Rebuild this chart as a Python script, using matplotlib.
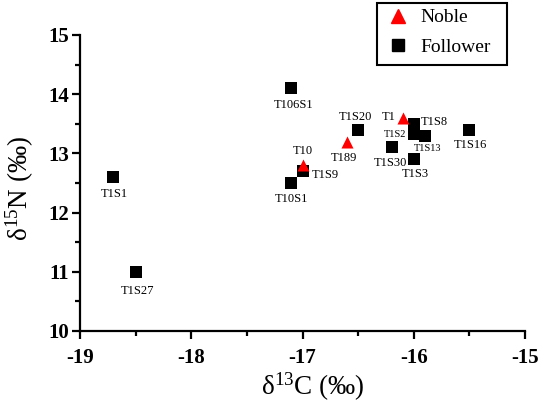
import matplotlib
matplotlib.use("Agg")
import matplotlib.pyplot as plt
from matplotlib.lines import Line2D
from matplotlib.patches import Rectangle

plt.rcParams['font.family'] = ['Liberation Serif', 'DejaVu Serif']
plt.rcParams['mathtext.fontset'] = 'custom'
plt.rcParams['mathtext.rm'] = 'Liberation Serif'
plt.rcParams['mathtext.it'] = 'Liberation Serif:italic'
plt.rcParams['mathtext.bf'] = 'Liberation Serif:bold'

# Data
noble_names = ["T10", "T189", "T1"]
noble_c = [-17.0, -16.6, -16.1]
noble_n = [12.8, 13.2, 13.6]

follower_names = ["T1S1", "T1S27", "T106S1", "T10S1", "T1S9", "T1S20",
                  "T1S8", "T1S2", "T1S13", "T1S30", "T1S3", "T1S16"]
follower_c = [-18.7, -18.5, -17.1, -17.1, -17.0, -16.5,
              -16.0, -16.0, -15.9, -16.2, -16.0, -15.5]
follower_n = [12.6, 11.0, 14.1, 12.5, 12.7, 13.4,
              13.5, 13.33, 13.3, 13.1, 12.9, 13.4]

series_names = ["Noble", "Follower"]
x_ticks = [-19, -18, -17, -16, -15]
y_ticks = [10, 11, 12, 13, 14, 15]

# label placement: (dx px, dy px, ha, va, fontsize)
PX = 0.72
lab_style = {
    "T10": (0, 14, "center", "center", 9),
    "T189": (-3, -16, "center", "center", 9),
    "T1": (-7, 1, "right", "center", 9),
    "T1S1": (1, -17, "center", "center", 9),
    "T1S27": (2, -19, "center", "center", 9),
    "T106S1": (2, -17, "center", "center", 9),
    "T10S1": (0, -16, "center", "center", 9),
    "T1S9": (9, -4, "left", "center", 9),
    "T1S20": (-3, 13, "center", "center", 9),
    "T1S8": (7, 2, "left", "center", 9),
    "T1S2": (-7, -1, "right", "center", 7.5),
    "T1S13": (3, -13, "center", "center", 7.5),
    "T1S30": (-1, -16, "center", "center", 9),
    "T1S3": (2, -15, "center", "center", 9),
    "T1S16": (1, -15, "center", "center", 9),
}

W, H = 550, 408
fig = plt.figure(figsize=(5.5, 4.08), dpi=100)
ax = fig.add_axes([80/W, 1-331/H, 445/W, 296/H])

ax.scatter(follower_c, follower_n, marker='s', s=70, color='black', zorder=3,
           linewidths=0)
ax.scatter(noble_c, noble_n, marker='^', s=75, color='red', zorder=4,
           linewidths=0)

for names, xs, ys in [(follower_names, follower_c, follower_n),
                      (noble_names, noble_c, noble_n)]:
    for nm, x, y in zip(names, xs, ys):
        dx, dy, ha, va, fs = lab_style[nm]
        ax.annotate(nm, (x, y), xytext=(dx*PX, dy*PX), textcoords='offset points',
                    ha=ha, va=va, fontsize=fs, zorder=5)

ax.set_xlim(-19, -15)
ax.set_ylim(10, 15)
ax.set_xticks(x_ticks)
ax.set_yticks(y_ticks)
ax.set_xticks([-18.5, -17.5, -16.5, -15.5], minor=True)
ax.set_yticks([10.5, 11.5, 12.5, 13.5, 14.5], minor=True)
ax.set_xticklabels([str(v) for v in x_ticks], fontweight='bold', fontsize=15)
ax.set_yticklabels([str(v) for v in y_ticks], fontweight='bold', fontsize=15)

for s in ['top', 'right']:
    ax.spines[s].set_visible(False)
for s in ['left', 'bottom']:
    ax.spines[s].set_linewidth(1.6)
ax.tick_params(which='major', length=6, width=1.6, direction='out')
ax.tick_params(axis='x', which='major', pad=6)
ax.tick_params(axis='y', which='major', pad=2)
ax.tick_params(which='minor', length=3.5, width=1.6, direction='out')

ax.set_xlabel(r'δ$^{\mathrm{13}}$C (‰)', fontsize=19.5)
ax.set_ylabel(r'δ$^{\mathrm{15}}$N (‰)', fontsize=19.5)
# place axis label centres (figure pixels -> axes coords)
ax.xaxis.set_label_coords((313-80)/445, (331-387)/296)
ax.xaxis.label.set_va('center')
ax.yaxis.set_label_coords((20-80)/445, (331-189)/296)
ax.yaxis.label.set_va('center')

# legend drawn as figure artists
fig.patches.append(Rectangle((377/W, 1-65/H), (507-377)/W, (65-3)/H,
                             transform=fig.transFigure, fill=False,
                             edgecolor='black', linewidth=1.5))
fig.add_artist(Line2D([398/W], [1-16/H], marker='^', color='red',
                      markersize=9.5, linestyle='none', transform=fig.transFigure))
fig.add_artist(Line2D([398/W], [1-45/H], marker='s', color='black',
                      markersize=9.2, linestyle='none', transform=fig.transFigure))
fig.text(420/W, 1-21.7/H, series_names[0], fontsize=14, va='baseline', ha='left')
fig.text(420/W, 1-51.7/H, series_names[1], fontsize=14, va='baseline', ha='left')

fig.savefig('out.png', dpi=100)
